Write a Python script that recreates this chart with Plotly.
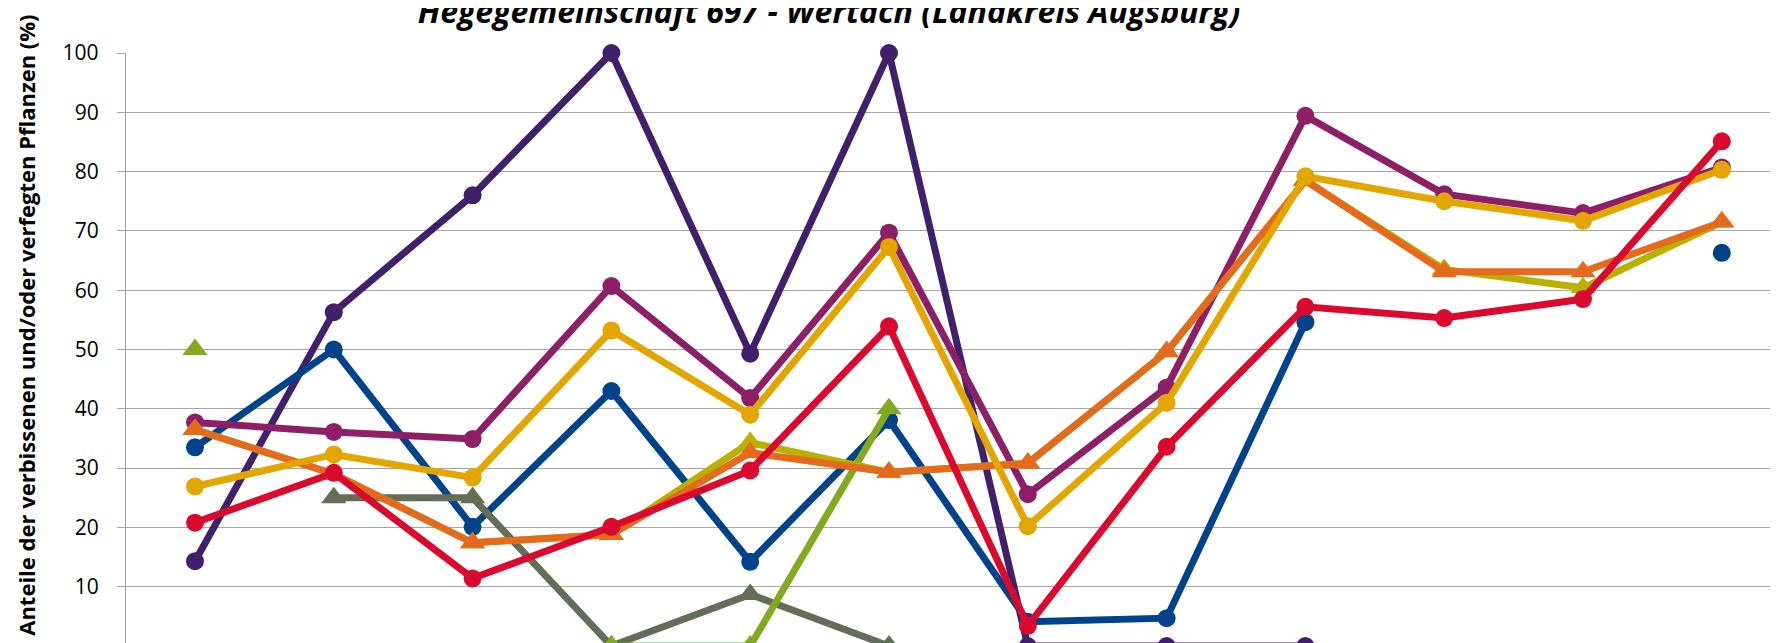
import plotly.graph_objects as go

# ---- data ----
categories = ["1", "2", "3", "4", "5", "6", "7", "8", "9", "10", "11", "12"]

s_darkpurple = [14.3, 56.3, 76.0, 100.0, 49.3, 100.0, 0.0, 0.0, 0.0, None, None, None]
s_blue = [33.5, 50.0, 20.1, 43.0, 14.2, 38.1, 4.1, 4.7, 54.6, None, None, 66.3]
s_grey = [None, 25.0, 25.0, 0.0, 8.7, 0.0, None, None, None, None, None, None]
s_lime = [50.0, None, None, 0.0, 0.0, 40.0, None, None, None, None, None, None]
s_magenta = [37.7, 36.1, 34.9, 60.7, 41.8, 69.7, 25.6, 43.6, 89.4, 76.2, 73.0, 80.7]
s_olive = [36.5, 29.0, 17.4, 18.8, 34.3, 29.3, 30.8, 49.6, 78.5, 63.5, 60.4, 71.5]
s_orange = [36.5, 29.0, 17.4, 18.8, 32.6, 29.3, 30.8, 49.6, 78.5, 63.1, 63.1, 71.5]
s_yellow = [26.9, 32.3, 28.4, 53.2, 39.0, 67.3, 20.2, 41.0, 79.2, 75.0, 71.7, 80.3]
s_red = [20.8, 29.2, 11.4, 20.1, 29.6, 53.9, 3.4, 33.6, 57.2, 55.3, 58.5, 85.1]

title_text = "Hegegemeinschaft 697 - Wertach (Landkreis Augsburg)"
ytitle_text = "Anteile der verbissenen und/oder verfegten Pflanzen (%)"
yticks = [0, 10, 20, 30, 40, 50, 60, 70, 80, 90, 100]

series = [
    (s_darkpurple, "#40206B", "circle"),
    (s_blue, "#00438A", "circle"),
    (s_grey, "#636D58", "triangle-up"),
    (s_lime, "#82AA20", "triangle-up"),
    (s_magenta, "#8C1F66", "circle"),
    (s_olive, "#BAB000", "triangle-up"),
    (s_orange, "#E46A1E", "triangle-up"),
    (s_yellow, "#E3A500", "circle"),
    (s_red, "#DA0A2F", "circle"),
]

xs = list(range(len(categories)))

fig = go.Figure()
for vals, col, sym in series:
    fig.add_trace(go.Scatter(
        x=xs, y=vals, mode="lines+markers",
        line=dict(color=col, width=7),
        marker=dict(color=col, symbol=sym, size=18 if sym == "circle" else 22,
                    line=dict(width=0)),
        connectgaps=False, showlegend=False, hoverinfo="skip",
        cliponaxis=False,
    ))

# The page body adds an 8 px offset, so figure pixels = page pixels - 8
OFF = 8
W, H = 1778, 643
unit = 5.926                      # pixels per percentage point
y0_px = 646.0 - OFF               # pixel of value 0 (below visible area)
L = 126 - OFF
T = y0_px - 100 * unit            # plot top exactly at value 100
cat_px0, cat_step = 195.0 - OFF, 138.8
x_lo = (L - cat_px0) / cat_step
x_hi = (W - cat_px0) / cat_step
y_lo = (y0_px - H) / unit
y_hi = 100

fig.update_layout(
    width=W, height=H,
    margin=dict(l=L, r=0, t=T, b=0, pad=0),
    plot_bgcolor="white", paper_bgcolor="white",
    font=dict(family="Open Sans", color="#000000"),
    xaxis=dict(range=[x_lo, x_hi], showgrid=False, zeroline=False,
               showticklabels=False, ticks="", showline=False,
               tickvals=xs, ticktext=categories),
    yaxis=dict(range=[y_lo, y_hi], tickvals=yticks, showgrid=True,
               gridcolor="#A6A6A6", gridwidth=1.3, zeroline=False,
               showline=True, linecolor="#A0A0A0", linewidth=1.3,
               ticks="outside", ticklen=8, tickcolor="#A6A6A6", tickwidth=1.3,
               ticklabelstandoff=14,
               tickfont=dict(family="Open Sans", size=21, color="#000000")),
    title=dict(text="<b><i>" + title_text + "</i></b>",
               x=(829 - OFF) / W, xanchor="center", xref="container",
               y=1 - 15 / H, yanchor="bottom", yref="container",
               font=dict(family="Open Sans", size=32, color="#000000")),
    annotations=[dict(
        text="<b>" + ytitle_text + "</b>", textangle=-90,
        xref="paper", yref="paper",
        x=(26 - OFF - L) / (W - L), y=(H - (326 - OFF)) / (H - T),
        xanchor="center", yanchor="middle", showarrow=False,
        font=dict(family="Open Sans", size=22, color="#000000"),
    )],
)

fig.write_html("out.html")
